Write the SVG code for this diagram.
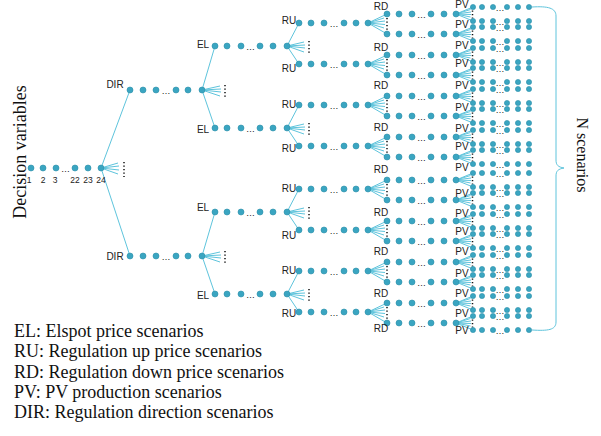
<svg xmlns="http://www.w3.org/2000/svg" width="601" height="436" viewBox="0 0 601 436">
<style>
.ln{stroke:#5ec4dc;stroke-width:1;fill:none}
.d{fill:#3aa5c1;stroke:#2a8ea9;stroke-width:.6}
.vd{stroke:#111;stroke-width:1.5;stroke-dasharray:1.3 2.2;fill:none}
.lb{font-family:"Liberation Sans",Arial,sans-serif;font-size:10px;fill:#222;text-anchor:middle}
.num{font-family:"Liberation Sans",Arial,sans-serif;font-size:8.5px;fill:#222;text-anchor:middle}
.el{font-family:"Liberation Sans",Arial,sans-serif;font-size:9px;fill:#111;text-anchor:middle}
.ser{font-family:"Liberation Serif","Times New Roman",serif;font-size:18px;fill:#111}
</style>
<defs>
 <g id="pvRow">
  <circle class="d" cx="0" cy="0" r="2.6"/><circle class="d" cx="9" cy="0" r="2.6"/><circle class="d" cx="20" cy="0" r="2.6"/>
  <circle class="d" cx="34" cy="0" r="2.6"/><circle class="d" cx="45" cy="0" r="2.6"/><circle class="d" cx="56" cy="0" r="2.6"/>
  <text class="el" x="27" y="3.5">…</text>
 </g>
 <g id="rdChain">
  <circle class="d" cx="0" cy="0" r="3"/><circle class="d" cx="12" cy="0" r="3"/><circle class="d" cx="25" cy="0" r="3"/>
  <circle class="d" cx="44" cy="0" r="3"/><circle class="d" cx="57" cy="0" r="3"/><circle class="d" cx="69" cy="0" r="3"/>
  <text class="el" x="34.5" y="3.5">…</text>
  <use href="#pvRow" x="86" y="-7"/><use href="#pvRow" x="86" y="7"/>
 </g>
 <g id="rdLinks">
  <path class="ln" d="M69,0L86,-7M69,0L83.5,-4.5M69,0L84,-2M69,0L84,0.5M69,0L83.5,3M69,0L86,7"/>
  <path class="vd" d="M85.5,-3.5V4.5"/>
 </g>
 <g id="ruChain">
  <circle class="d" cx="0" cy="0" r="3"/><circle class="d" cx="12" cy="0" r="3"/><circle class="d" cx="25" cy="0" r="3"/>
  <circle class="d" cx="45" cy="0" r="3"/><circle class="d" cx="57" cy="0" r="3"/><circle class="d" cx="69" cy="0" r="3"/>
  <text class="el" x="35" y="3.5">…</text>
 </g>
 <g id="ruLinks">
  <path class="ln" d="M69,0L88,-9M69,0L85,-5M69,0L86,-2M69,0L86,1.5M69,0L85,5M69,0L88,11"/>
  <path class="vd" d="M88,-5V7.5"/>
 </g>
 <g id="elChain">
  <circle class="d" cx="0" cy="0" r="3"/><circle class="d" cx="12" cy="0" r="3"/><circle class="d" cx="26" cy="0" r="3"/>
  <circle class="d" cx="45" cy="0" r="3"/><circle class="d" cx="58" cy="0" r="3"/><circle class="d" cx="72" cy="0" r="3"/>
  <text class="el" x="35.5" y="3.5">…</text>
 </g>
 <g id="elLinks">
  <path class="ln" d="M72,0L84,-23M72,0L89,-4M72,0L90,-1M72,0L90,2M72,0L89,6M72,0L84,18"/>
  <path class="vd" d="M94,-5V7.5"/>
 </g>
 <g id="dirChain">
  <circle class="d" cx="0" cy="0" r="3"/><circle class="d" cx="13" cy="0" r="3"/><circle class="d" cx="26" cy="0" r="3"/>
  <circle class="d" cx="46" cy="0" r="3"/><circle class="d" cx="58" cy="0" r="3"/><circle class="d" cx="72" cy="0" r="3"/>
  <text class="el" x="36" y="3.5">…</text>
 </g>
 <g id="dirLinks">
  <path class="ln" d="M72,0L85,-44M72,0L90,-4M72,0L91,-1M72,0L91,2M72,0L90,6M72,0L85,38"/>
  <path class="vd" d="M95,-5V7.5"/>
 </g>
</defs>
<rect width="601" height="436" fill="#fff"/>

<g id="connectors">
 <path class="ln" d="M101,168L130,90M101,168L118,163M101,168L119,166M101,168L119,170M101,168L118,174M101,168L130,256"/>
 <path class="vd" d="M124,162V177"/>
 <use href="#dirLinks" x="130" y="90"/>
 <use href="#dirLinks" x="130" y="256"/>
 <use href="#elLinks" x="215" y="46"/>
 <use href="#elLinks" x="215" y="128"/>
 <use href="#elLinks" x="215" y="212"/>
 <use href="#elLinks" x="215" y="294"/>
 <use href="#ruLinks" x="299" y="23"/>
 <use href="#ruLinks" x="299" y="64"/>
 <use href="#ruLinks" x="299" y="105"/>
 <use href="#ruLinks" x="299" y="146"/>
 <use href="#ruLinks" x="299" y="189"/>
 <use href="#ruLinks" x="299" y="230"/>
 <use href="#ruLinks" x="299" y="271"/>
 <use href="#ruLinks" x="299" y="312"/>
 <use href="#rdLinks" x="387" y="14"/>
 <use href="#rdLinks" x="387" y="34"/>
 <use href="#rdLinks" x="387" y="55"/>
 <use href="#rdLinks" x="387" y="75"/>
 <use href="#rdLinks" x="387" y="96"/>
 <use href="#rdLinks" x="387" y="116"/>
 <use href="#rdLinks" x="387" y="137"/>
 <use href="#rdLinks" x="387" y="157"/>
 <use href="#rdLinks" x="387" y="180"/>
 <use href="#rdLinks" x="387" y="200"/>
 <use href="#rdLinks" x="387" y="221"/>
 <use href="#rdLinks" x="387" y="241"/>
 <use href="#rdLinks" x="387" y="262"/>
 <use href="#rdLinks" x="387" y="282"/>
 <use href="#rdLinks" x="387" y="303"/>
 <use href="#rdLinks" x="387" y="323"/>
 <path id="brace" class="ln" d="M532,7C548,6 556,8 556,16L556,160C556,165 558,167 564,168C558,169 556,171 556,176L556,322C556,330 548,331 532,330"/>
</g>

<g id="nodes">
 <g id="decision">
  <circle class="d" cx="31" cy="168" r="3"/><circle class="d" cx="43" cy="168" r="3"/><circle class="d" cx="56" cy="168" r="3"/>
  <circle class="d" cx="75" cy="168" r="3"/><circle class="d" cx="88" cy="168" r="3"/><circle class="d" cx="101" cy="168" r="3"/>
  <text class="el" x="65.5" y="171.5">…</text>
  <text class="num" x="29" y="183">1</text><text class="num" x="43" y="183">2</text><text class="num" x="55" y="183">3</text>
  <text class="num" x="75" y="183">22</text><text class="num" x="88" y="183">23</text><text class="num" x="101" y="183">24</text>
 </g>
 <g id="dir1"><use href="#dirChain" x="130" y="90"/><text class="lb" x="115" y="88">DIR</text></g>
 <g id="dir2"><use href="#dirChain" x="130" y="256"/><text class="lb" x="115" y="260">DIR</text></g>
 <g id="el1"><use href="#elChain" x="215" y="46"/><text class="lb" x="203" y="48">EL</text></g>
 <g id="el2"><use href="#elChain" x="215" y="128"/><text class="lb" x="203" y="133">EL</text></g>
 <g id="el3"><use href="#elChain" x="215" y="212"/><text class="lb" x="203" y="211">EL</text></g>
 <g id="el4"><use href="#elChain" x="215" y="294"/><text class="lb" x="203" y="299">EL</text></g>
 <g id="ru1"><use href="#ruChain" x="299" y="23"/><text class="lb" x="289" y="24">RU</text></g>
 <g id="ru2"><use href="#ruChain" x="299" y="64"/><text class="lb" x="289" y="72">RU</text></g>
 <g id="ru3"><use href="#ruChain" x="299" y="105"/><text class="lb" x="289" y="108">RU</text></g>
 <g id="ru4"><use href="#ruChain" x="299" y="146"/><text class="lb" x="289" y="152">RU</text></g>
 <g id="ru5"><use href="#ruChain" x="299" y="189"/><text class="lb" x="289" y="192">RU</text></g>
 <g id="ru6"><use href="#ruChain" x="299" y="230"/><text class="lb" x="289" y="239">RU</text></g>
 <g id="ru7"><use href="#ruChain" x="299" y="271"/><text class="lb" x="289" y="274">RU</text></g>
 <g id="ru8"><use href="#ruChain" x="299" y="312"/><text class="lb" x="289" y="317">RU</text></g>
 <g id="rd-pv">
  <use href="#rdChain" x="387" y="14"/>
  <use href="#rdChain" x="387" y="34"/>
  <use href="#rdChain" x="387" y="55"/>
  <use href="#rdChain" x="387" y="75"/>
  <use href="#rdChain" x="387" y="96"/>
  <use href="#rdChain" x="387" y="116"/>
  <use href="#rdChain" x="387" y="137"/>
  <use href="#rdChain" x="387" y="157"/>
  <use href="#rdChain" x="387" y="180"/>
  <use href="#rdChain" x="387" y="200"/>
  <use href="#rdChain" x="387" y="221"/>
  <use href="#rdChain" x="387" y="241"/>
  <use href="#rdChain" x="387" y="262"/>
  <use href="#rdChain" x="387" y="282"/>
  <use href="#rdChain" x="387" y="303"/>
  <use href="#rdChain" x="387" y="323"/>
 </g>
 <g id="rd-labels">
  <text class="lb" x="381" y="10">RD</text><text class="lb" x="381" y="51">RD</text><text class="lb" x="381" y="89">RD</text>
  <text class="lb" x="381" y="131">RD</text><text class="lb" x="381" y="173">RD</text><text class="lb" x="381" y="216">RD</text>
  <text class="lb" x="381" y="255">RD</text><text class="lb" x="381" y="297">RD</text><text class="lb" x="381" y="332">RD</text>
 </g>
 <g id="pv-labels">
  <text class="lb" x="462" y="8">PV</text><text class="lb" x="462" y="28">PV</text><text class="lb" x="462" y="49">PV</text>
  <text class="lb" x="462" y="67">PV</text><text class="lb" x="462" y="89">PV</text><text class="lb" x="462" y="111">PV</text>
  <text class="lb" x="462" y="132">PV</text><text class="lb" x="462" y="150">PV</text><text class="lb" x="462" y="171">PV</text>
  <text class="lb" x="462" y="197">PV</text><text class="lb" x="462" y="217">PV</text><text class="lb" x="462" y="235">PV</text>
  <text class="lb" x="462" y="255">PV</text><text class="lb" x="462" y="277">PV</text><text class="lb" x="462" y="297">PV</text>
  <text class="lb" x="462" y="317">PV</text><text class="lb" x="462" y="334">PV</text>
 </g>
</g>

<text class="ser" transform="translate(26,152) rotate(-90)" text-anchor="middle">Decision variables</text>
<text class="ser" style="font-size:16px" transform="translate(577,155) rotate(90)" text-anchor="middle">N scenarios</text>

<g id="legend" class="ser">
 <text x="14" y="337">EL: Elspot price scenarios</text>
 <text x="14" y="357">RU: Regulation up price scenarios</text>
 <text x="14" y="378">RD: Regulation down price scenarios</text>
 <text x="14" y="398">PV: PV production scenarios</text>
 <text x="14" y="418">DIR: Regulation direction scenarios</text>
</g>
</svg>
